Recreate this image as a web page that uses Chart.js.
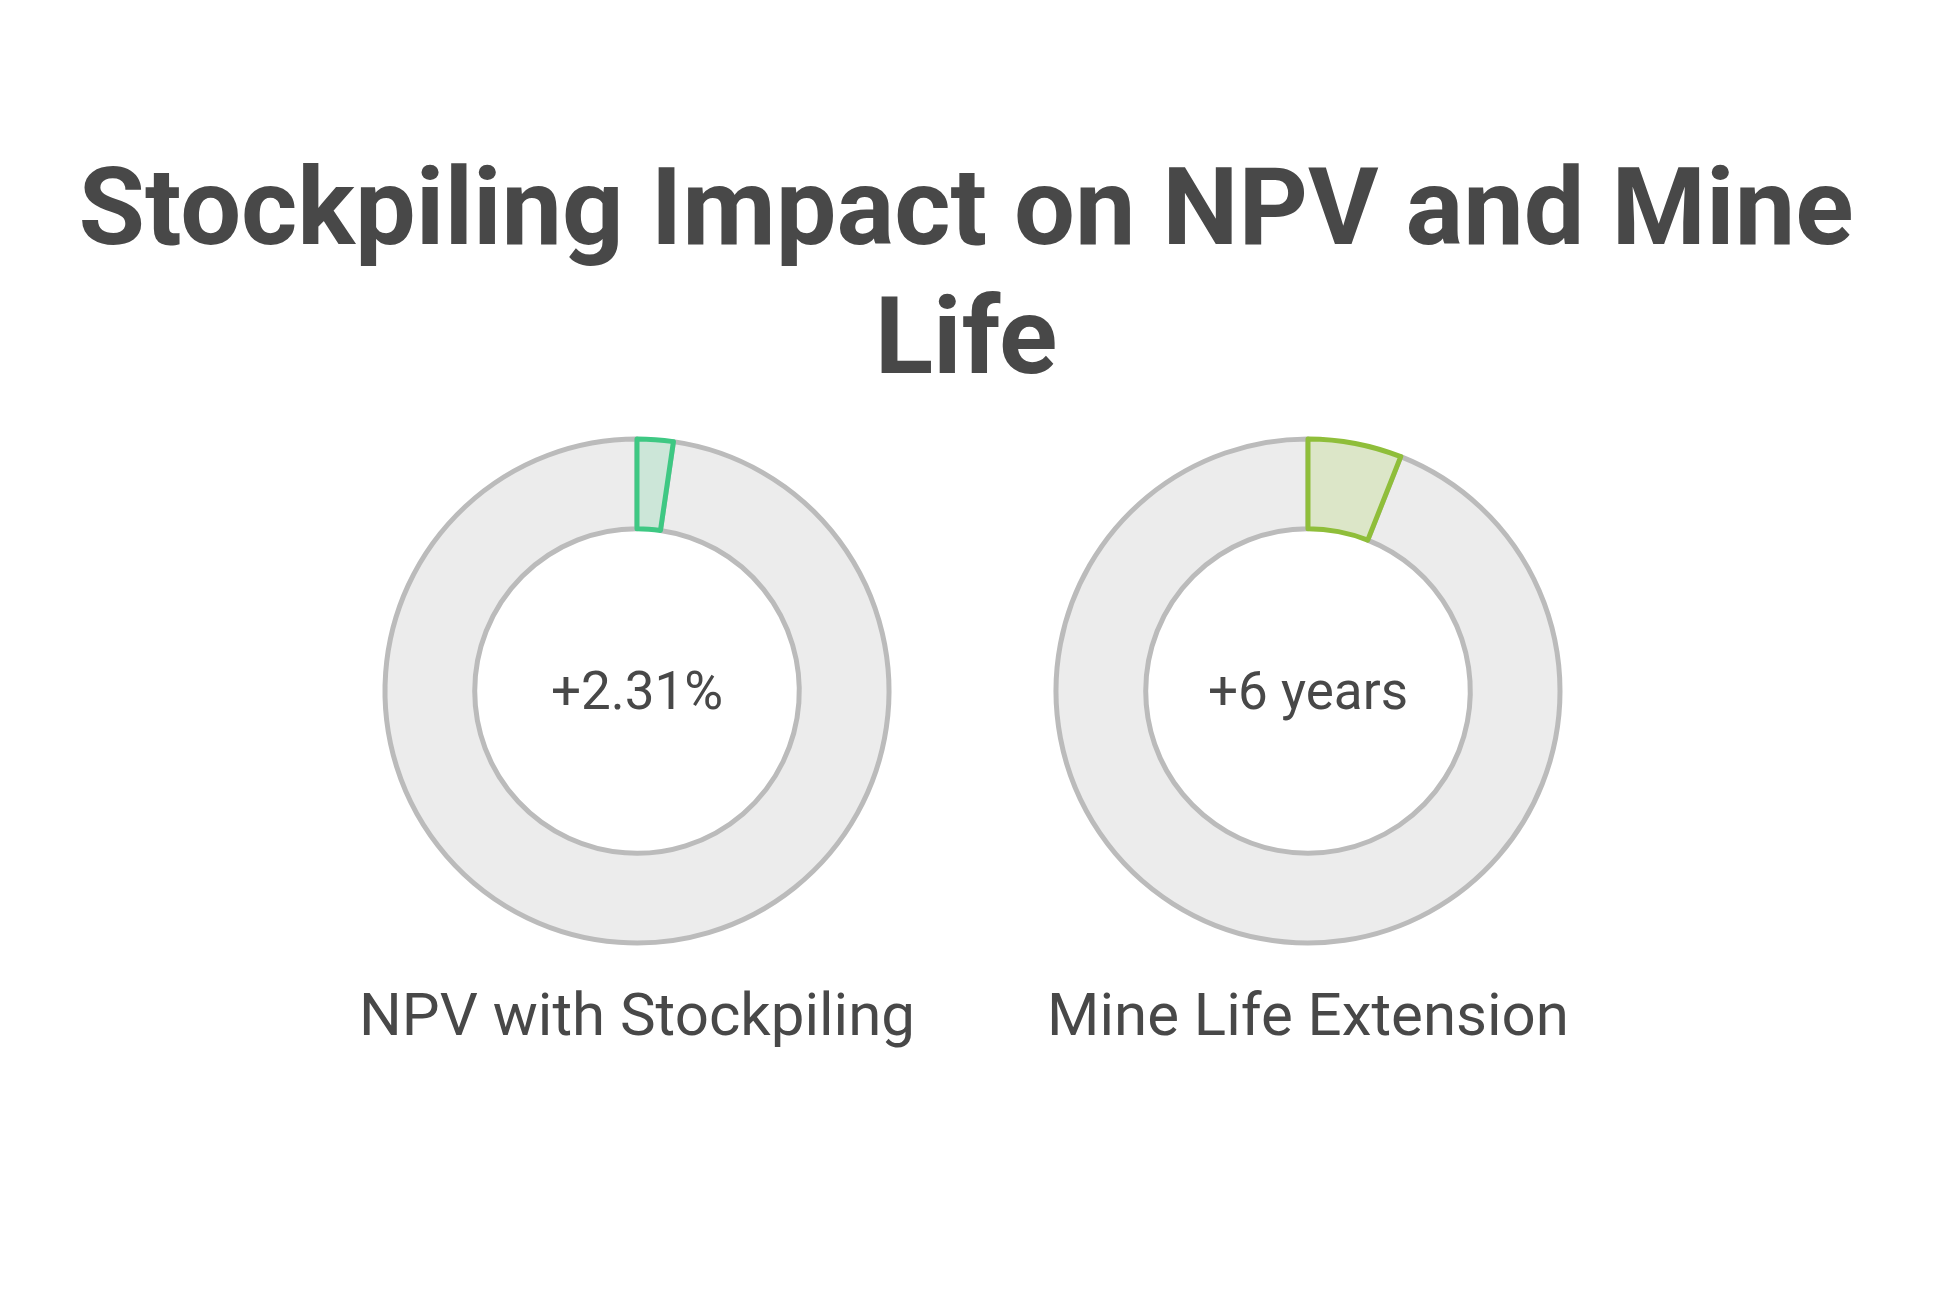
<!DOCTYPE html>
<html>
<head>
<meta charset="utf-8">
<script src="https://cdn.jsdelivr.net/npm/chart.js@4.4.1/dist/chart.umd.min.js"></script>
<style>
   body {
      margin: 0;
      width: 1946px;
      height: 1304px;
      background: #ffffff;
      font-family: Roboto, "Noto Sans", sans-serif;
      color: #484848;
      position: relative;
      overflow: hidden;
   }
   h1 {
      position: absolute;
      left: -7px;
      top: 143px;
      width: 1946px;
      margin: 0;
      text-align: center;
      font-size: 108px;
      font-weight: 700;
      line-height: 129px;
   }
   .donut {
      position: absolute;
      top: 391px;
      width: 600px;
      height: 600px;
   }
   .label {
      position: absolute;
      top: 985px;
      width: 800px;
      text-align: center;
      font-size: 60px;
      line-height: 60px;
      white-space: nowrap;
   }
</style>
</head>
<body>
<h1>Stockpiling Impact on NPV and Mine<br>Life</h1>

<div class="donut" style="left: 337px;"><canvas id="npvChart" width="600" height="600"></canvas></div>
<div class="donut" style="left: 1008px;"><canvas id="mineChart" width="600" height="600"></canvas></div>

<div class="label" id="npvLabel" style="left: 237px;"></div>
<div class="label" id="mineLabel" style="left: 908px;"></div>

<script>
let chartLabels = ["NPV with Stockpiling", "Mine Life Extension"];
let centerTexts = ["+2.31%", "+6 years"];

// share of the ring: [rest, highlighted]
let npvValues = [97.69, 2.31];
let mineValues = [94, 6];

let ringFill = "#ececec";
let ringBorder = "#bbbbbb";

document.getElementById("npvLabel").textContent = chartLabels[0];
document.getElementById("mineLabel").textContent = chartLabels[1];

const centerText = {
   id: "centerText",
   afterDraw(chart, args, opts) {
      const c = chart.ctx;
      const x = (chart.chartArea.left + chart.chartArea.right) / 2;
      const y = (chart.chartArea.top + chart.chartArea.bottom) / 2;
      c.save();
      c.font = "400 53px Roboto";
      c.fillStyle = "#484848";
      c.textAlign = "center";
      c.textBaseline = "alphabetic";
      c.fillText(opts.text, x, y + 18);
      c.restore();
   },
};

function makeDonut(id, values, text, fill, border) {
   const total = values[0] + values[1];
   return new Chart(document.getElementById(id), {
      type: "doughnut",
      data: {
         labels: ["rest", text],
         datasets: [
            {
               data: values,
               backgroundColor: [ringFill, fill],
               borderColor: [ringBorder, border],
               borderWidth: 5,
               borderJoinStyle: "round",
            },
         ],
      },
      options: {
         responsive: false,
         devicePixelRatio: 1,
         animation: false,
         radius: 252,
         cutout: "64.4%",
         // highlighted slice (drawn last) starts at 12 o'clock
         rotation: (values[1] / total) * 360,
         layout: {padding: 0},
         plugins: {
            legend: {display: false},
            tooltip: {enabled: false},
            centerText: {text: text},
         },
      },
      plugins: [centerText],
   });
}

makeDonut("npvChart", npvValues, centerTexts[0], "#cce6d8", "#3ec883");
makeDonut("mineChart", mineValues, centerTexts[1], "#dce6c8", "#8fbe3a");
</script>
</body>
</html>
